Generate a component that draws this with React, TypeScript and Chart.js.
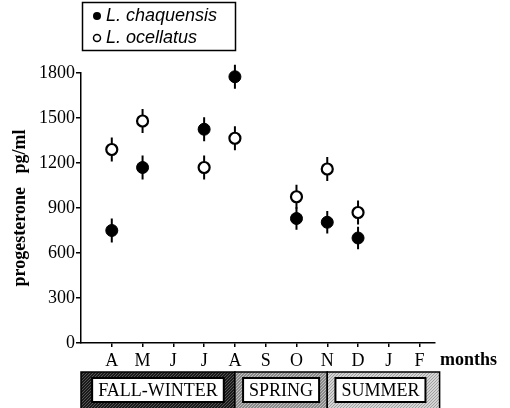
import React, { useEffect, useRef } from 'react';
import { Chart, registerables } from 'chart.js';

Chart.register(...registerables);

const months = ['A', 'M', 'J', 'J', 'A', 'S', 'O', 'N', 'D', 'J', 'F'];
const monthPos = [1, 2, 3, 4, 5, 6, 7, 8, 9, 10, 11];

const chaqX = [1, 2, 4, 5, 7, 8, 9];
const chaqY = [750, 1170, 1425, 1775, 830, 805, 700];
const chaqErr = [80, 80, 80, 80, 75, 75, 75];

const ocelX = [1, 2, 4, 5, 7, 8, 9];
const ocelY = [1290, 1480, 1170, 1365, 975, 1160, 870];
const ocelErr = [80, 80, 80, 80, 80, 80, 80];

const seriesNames = ['L. chaquensis', 'L. ocellatus'];

const seasons = ['FALL-WINTER', 'SPRING', 'SUMMER'];
const seasonStart = [0, 5, 8];
const seasonEnd = [5, 8, 11.65];
const seasonFill = ['#1a1a1a', '#8a8a8a', '#d4d4d4'];

const SERIF = '"Liberation Serif", "DejaVu Serif", serif';
const SANS = '"Liberation Sans", Arial, sans-serif';

const errs = [chaqErr, ocelErr];

function makePattern(ctx: CanvasRenderingContext2D, base: string, dot: string) {
  const c = document.createElement('canvas');
  c.width = 3;
  c.height = 3;
  const g = c.getContext('2d')!;
  g.fillStyle = base;
  g.fillRect(0, 0, 3, 3);
  g.fillStyle = dot;
  g.fillRect(0, 0, 1, 1);
  g.fillRect(2, 1, 1, 1);
  g.fillRect(1, 2, 1, 1);
  return ctx.createPattern(c, 'repeat') || base;
}

const errorBarPlugin = {
  id: 'errorBars',
  beforeDatasetsDraw(chart: any) {
    const ctx = chart.ctx;
    const xs = chart.scales.x;
    const ys = chart.scales.y;
    ctx.save();
    ctx.strokeStyle = '#000';
    ctx.lineWidth = 2;
    chart.data.datasets.forEach((ds: any, di: number) => {
      ds.data.forEach((p: any, i: number) => {
        const e = errs[di][i];
        const px = xs.getPixelForValue(p.x);
        ctx.beginPath();
        ctx.moveTo(px, ys.getPixelForValue(p.y + e));
        ctx.lineTo(px, ys.getPixelForValue(p.y - e));
        ctx.stroke();
      });
    });
    ctx.restore();
  },
};

const extrasPlugin = {
  id: 'extras',
  afterDraw(chart: any) {
    const ctx = chart.ctx as CanvasRenderingContext2D;
    const xs = chart.scales.x;
    ctx.save();

    // Legend box
    ctx.strokeStyle = '#000';
    ctx.lineWidth = 1.5;
    ctx.strokeRect(82.5, 2.5, 153, 48);
    ctx.font = `italic 18px ${SANS}`;
    ctx.fillStyle = '#000';
    ctx.textBaseline = 'middle';
    ctx.textAlign = 'left';
    ctx.beginPath();
    ctx.arc(97, 16, 4, 0, Math.PI * 2);
    ctx.fill();
    ctx.fillText(seriesNames[0], 106, 16);
    ctx.beginPath();
    ctx.arc(97, 38, 3.5, 0, Math.PI * 2);
    ctx.lineWidth = 1.5;
    ctx.stroke();
    ctx.fillText(seriesNames[1], 106, 38);

    // months label
    ctx.font = `bold 18px ${SERIF}`;
    ctx.fillText('months', 440, 360);

    // Season bands
    const top = 372;
    const bottom = 412;
    const bases = [
      makePattern(ctx, seasonFill[0], '#555'),
      makePattern(ctx, seasonFill[1], '#c0c0c0'),
      makePattern(ctx, seasonFill[2], '#a0a0a0'),
    ];
    ctx.font = `18px ${SERIF}`;
    ctx.textAlign = 'center';
    seasons.forEach((s, i) => {
      const x0 = xs.getPixelForValue(seasonStart[i]);
      const x1 = xs.getPixelForValue(seasonEnd[i]);
      ctx.fillStyle = bases[i] as any;
      ctx.fillRect(x0, top, x1 - x0, bottom - top);
      ctx.strokeStyle = '#000';
      ctx.lineWidth = 1.5;
      ctx.strokeRect(x0, top, x1 - x0, bottom - top);
      const w = ctx.measureText(s).width;
      const cx = (x0 + x1) / 2 - (i === 2 ? 3 : 0);
      const bx = cx - w / 2 - 6;
      ctx.fillStyle = '#fff';
      ctx.fillRect(bx, 378, w + 12, 24);
      ctx.lineWidth = 2;
      ctx.strokeRect(bx, 378, w + 12, 24);
      ctx.fillStyle = '#000';
      ctx.fillText(s, cx, 391);
    });

    ctx.restore();
  },
};

export default function App() {
  const ref = useRef<HTMLCanvasElement>(null);
  useEffect(() => {
    document.body.style.margin = '0';
    const chart = new Chart(ref.current!, {
      type: 'scatter',
      data: {
        datasets: [
          {
            label: seriesNames[0],
            data: chaqX.map((x, i) => ({ x, y: chaqY[i] })),
            pointRadius: 6,
            pointBackgroundColor: '#000',
            pointBorderColor: '#000',
            pointBorderWidth: 1,
            clip: false,
          },
          {
            label: seriesNames[1],
            data: ocelX.map((x, i) => ({ x, y: ocelY[i] })),
            pointRadius: 5.5,
            pointBackgroundColor: '#fff',
            pointBorderColor: '#000',
            pointBorderWidth: 2.2,
            clip: false,
          },
        ],
      },
      options: {
        responsive: false,
        animation: false,
        devicePixelRatio: 1,
        layout: { padding: { top: 73, right: 75, left: 0, bottom: 0 } },
        plugins: {
          legend: { display: false },
          tooltip: { enabled: false },
        },
        scales: {
          x: {
            type: 'linear',
            min: 0,
            max: 11.5,
            afterBuildTicks: (s: any) => {
              s.ticks = monthPos.map((v) => ({ value: v }));
            },
            afterFit: (s: any) => {
              s.height = 65;
            },
            ticks: {
              callback: (v: any) => months[monthPos.indexOf(Number(v))] ?? '',
              font: { family: SERIF, size: 18 },
              color: '#000',
              padding: 3,
              maxRotation: 0,
              autoSkip: false,
            },
            grid: { drawOnChartArea: false, tickLength: 4, color: '#000', lineWidth: 1.5 },
            border: { color: '#000', width: 1.5 },
          },
          y: {
            min: 0,
            max: 1800,
            afterFit: (s: any) => {
              s.width = 81;
            },
            ticks: {
              stepSize: 300,
              callback: (v: any) => String(v),
              font: { family: SERIF, size: 18 },
              color: '#000',
              padding: 1,
            },
            grid: { drawOnChartArea: false, tickLength: 5, color: '#000', lineWidth: 1.5 },
            border: { color: '#000', width: 1.5 },
            title: {
              display: true,
              text: 'progesterone   pg/ml',
              font: { family: SERIF, size: 18, weight: 'bold' },
              color: '#000',
              padding: { top: 10, bottom: 0 },
            },
          },
        },
      },
      plugins: [errorBarPlugin, extrasPlugin],
    } as any);
    return () => chart.destroy();
  }, []);
  return (
    <div style={{ position: 'absolute', left: 0, top: 0, width: 510, height: 408 }}>
      <canvas ref={ref} width={510} height={408} />
    </div>
  );
}
